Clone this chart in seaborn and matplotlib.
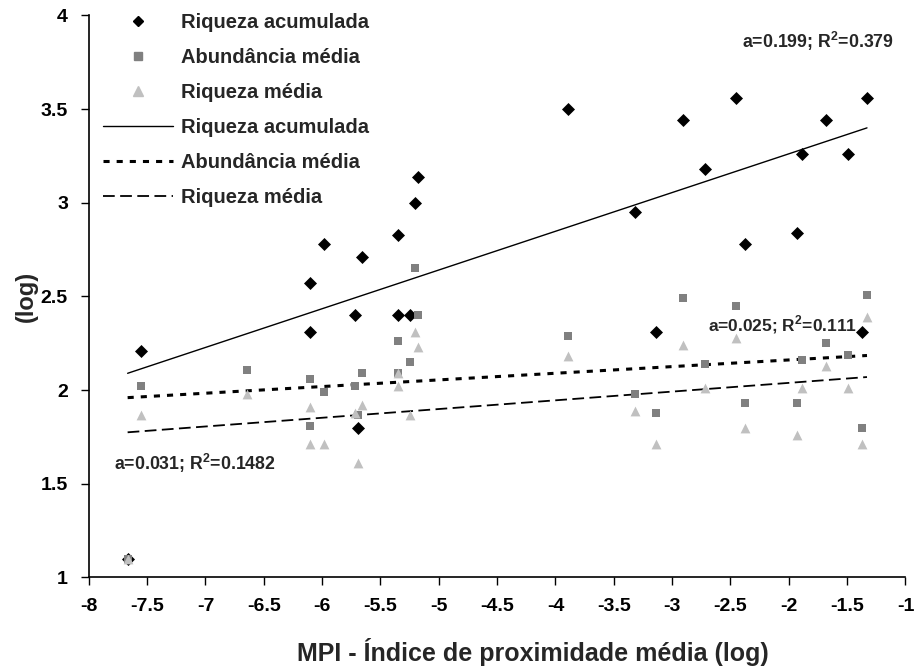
import numpy as np
import pandas as pd
import matplotlib
matplotlib.use("Agg")
import matplotlib.pyplot as plt
from matplotlib.lines import Line2D
import seaborn as sns

# ---- data ----
mpi_log = [-7.667, -7.555, -6.647, -6.108, -6.100, -5.982, -5.718, -5.690, -5.654,
           -5.350, -5.350, -5.244, -5.208, -5.174, -3.890, -3.318, -3.138, -2.910,
           -2.721, -2.455, -2.376, -1.934, -1.887, -1.684, -1.490, -1.369, -1.330]
riqueza_acumulada = [1.10, 2.21, np.nan, 2.57, 2.31, 2.78, 2.40, 1.80, 2.71,
                     2.83, 2.40, 2.40, 3.00, 3.14, 3.50, 2.95, 2.31, 3.44,
                     3.18, 3.56, 2.78, 2.84, 3.26, 3.44, 3.26, 2.31, 3.56]
abundancia_media = [1.10, 2.02, 2.11, 2.06, 1.81, 1.99, 2.02, 1.87, 2.09,
                    2.26, 2.09, 2.15, 2.65, 2.40, 2.29, 1.98, 1.88, 2.49,
                    2.14, 2.45, 1.93, 1.93, 2.16, 2.25, 2.19, 1.80, 2.51]
riqueza_media = [1.10, 1.87, 1.98, 1.91, 1.71, 1.71, 1.88, 1.61, 1.92,
                 2.09, 2.02, 1.87, 2.31, 2.23, 2.18, 1.89, 1.71, 2.24,
                 2.01, 2.28, 1.80, 1.76, 2.01, 2.13, 2.01, 1.71, 2.39]

# trend lines as drawn in the reference (values at the ends of the x range)
trend_x = [-7.667, -1.330]
trend_riqueza_acumulada = [2.09, 3.40]
trend_abundancia_media = [1.96, 2.185]
trend_riqueza_media = [1.775, 2.07]

series_names = ["Riqueza acumulada", "Abundância média", "Riqueza média"]
annotations = ["a=0.199; R$^{\\mathbf{2}}$=0.379",
               "a=0.025; R$^{\\mathbf{2}}$=0.111",
               "a=0.031; R$^{\\mathbf{2}}$=0.1482"]
x_ticks = [-8, -7.5, -7, -6.5, -6, -5.5, -5, -4.5, -4, -3.5, -3, -2.5, -2, -1.5, -1]
y_ticks = [1, 1.5, 2, 2.5, 3, 3.5, 4]

df = pd.DataFrame({"x": mpi_log,
                   series_names[0]: riqueza_acumulada,
                   series_names[1]: abundancia_media,
                   series_names[2]: riqueza_media})
trend_df = pd.DataFrame({"x": trend_x,
                         series_names[0]: trend_riqueza_acumulada,
                         series_names[1]: trend_abundancia_media,
                         series_names[2]: trend_riqueza_media})

# ---- styling ----
sns.set_style("ticks")
plt.rcParams["font.family"] = ["Liberation Sans", "DejaVu Sans"]
plt.rcParams["font.weight"] = "bold"
plt.rcParams["mathtext.fontset"] = "custom"
plt.rcParams["mathtext.bf"] = "Liberation Sans:bold"
plt.rcParams["mathtext.rm"] = "Liberation Sans:bold"

fig = plt.figure(figsize=(9.19, 6.67), dpi=100)
ax = fig.add_axes([0.0966, 0.1342, 0.8887, 0.8426])

markers = ["D", "s", "^"]
colors = ["#000000", "#808080", "#c0c0c0"]
msizes = [44, 40, 50]
for name, m, c, s in zip(series_names, markers, colors, msizes):
    sns.scatterplot(data=df, x="x", y=name, marker=m, color=c, s=s,
                    linewidth=0, ax=ax, zorder=3)

line_styles = [dict(color="black", lw=1.0, ls="-"),
               dict(color="black", lw=2.2, ls=(0, (2.0, 2.3))),
               dict(color="black", lw=1.3, ls=(0, (6.5, 3.0)))]
for name, ls in zip(series_names, line_styles):
    ax.plot(trend_df["x"], trend_df[name], **ls)

ax.set_xlim(-8, -1)
ax.set_ylim(1, 4)
ax.set_xticks(x_ticks)
ax.set_xticklabels([f"{t:g}" for t in x_ticks])
ax.set_yticks(y_ticks)
ax.set_yticklabels([f"{t:g}" for t in y_ticks])
ax.tick_params(axis="both", labelsize=14, length=6, width=1, direction="out",
               colors="black")
ax.tick_params(axis="x", pad=9)
ax.tick_params(axis="y", pad=9)
for lab in ax.get_xticklabels() + ax.get_yticklabels():
    lab.set_fontweight("bold")
sns.despine(ax=ax)
for sp in ["left", "bottom"]:
    ax.spines[sp].set_linewidth(1.2)
    ax.spines[sp].set_color("black")

ax.set_xlabel("MPI - Índice de proximidade média (log)", fontsize=18,
              fontweight="bold", labelpad=16)
ax.xaxis.label.set_x(0.544)
ax.set_ylabel("(log)", fontsize=17, fontweight="bold", labelpad=2)

ax.text(-1.750, 3.859, annotations[0], fontsize=12.8, fontweight="bold", ha="center", va="center")
ax.text(-2.050, 2.348, annotations[1], fontsize=12.5, fontweight="bold", ha="center", va="center")
ax.text(-7.090, 1.611, annotations[2], fontsize=12.8, fontweight="bold", ha="center", va="center")

handles = [Line2D([], [], marker=m, color=c, ls="none", markersize=sz)
           for m, c, sz in zip(markers, colors, [5.5, 6, 7])]
handles += [Line2D([], [], **ls) for ls in line_styles]
labels = series_names + series_names
leg = ax.legend(handles, labels, loc="upper left", bbox_to_anchor=(0.0, 1.03),
                frameon=False, fontsize=14.5, handlelength=3.5, handletextpad=0.4,
                labelspacing=0.8, borderaxespad=0.3)
for t in leg.get_texts():
    t.set_fontweight("bold")

fig.savefig("out.png", dpi=100)
